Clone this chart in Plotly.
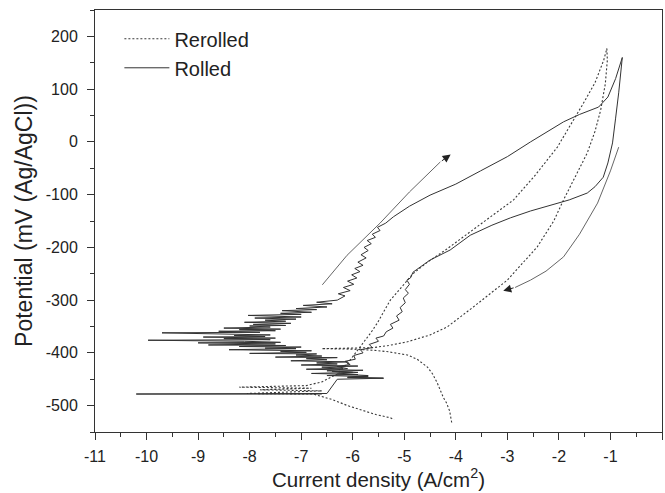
import plotly.graph_objects as go

# ---------------- data ----------------
# Rolled: cyclic polarization curve (log current density, potential mV)
rolled_x = [-6.6, -10.2, -6.5, -6.3,
            -5.4, -6.1, -5.7, -6.5, -5.9, -6.8, -6.0, -6.4, -5.8, -6.9, -6.2, -6.6, -5.9, -7.0,
            -6.3, -6.7, -6.1, -7.2, -6.5, -6.9, -6.3, -7.5, -6.6, -7.1, -6.7, -8.0, -6.9, -7.4,
            -6.8, -8.4, -7.1, -7.7, -7.0, -8.2, -7.3, -8.8, -7.5, -9.0, -7.4, -8.1, -9.97, -7.6,
            -8.5, -7.5, -8.9, -7.7, -8.3, -7.6, -9.7, -7.8, -8.6, -7.5, -8.2, -7.4, -8.5, -7.6,
            -8.0, -7.3, -7.93, -7.2, -8.1, -7.3, -7.7, -7.1, -7.9, -7.0, -8.03, -7.0, -7.4, -6.8,
            -7.37, -6.7, -7.1, -6.5, -6.96, -6.4, -6.7, -6.3,
            -6.15, -6.28, -6.05, -6.18, -5.98, -6.1, -5.92, -6.02, -5.86, -5.96, -5.8, -5.9,
            -5.74, -5.84, -5.7, -5.78, -5.64, -5.72, -5.56, -5.62, -5.47, -5.52, -5.36, -5.21,
            -4.9, -4.5, -4.0, -3.52, -3.0, -2.55, -2.2, -1.91, -1.6, -1.23, -1.05, -0.9, -0.77,
            -0.8, -0.84, -0.9, -0.96, -1.05, -1.14, -1.3, -1.45, -1.8, -2.17, -2.55, -2.94, -3.3,
            -3.72, -4.11, -4.5, -4.83,
            -4.88, -4.95, -4.9, -4.98, -4.92, -5.02, -4.98, -5.08, -5.04, -5.15, -5.1, -5.27,
            -5.22, -5.35, -5.4, -5.55, -5.5, -5.68, -5.62, -5.85, -5.8, -5.98, -5.95, -6.15,
            -6.05, -6.3, -6.1, -6.5, -5.9, -6.3, -5.7, -6.1, -5.41]
rolled_y = [-478, -478, -477, -450,
            -448, -447, -445, -443, -441, -439, -437, -435, -433, -431, -429, -427, -425, -423,
            -421, -419, -417, -415, -413, -411, -409, -408, -406, -404, -402, -401, -399, -397,
            -396, -394, -392, -391, -389, -388, -386, -385, -383, -381, -380, -378, -376, -375,
            -373, -372, -370, -369, -367, -366, -362, -361, -359, -358, -356, -355, -353, -351,
            -349, -348, -346, -344, -342, -340, -338, -336, -334, -332, -329, -327, -325, -323,
            -320, -318, -316, -313, -310, -307, -304, -300,
            -292, -288, -282, -276, -270, -264, -258, -252, -246, -240, -234, -228,
            -220, -214, -206, -200, -193, -187, -181, -175, -168, -162, -154, -142,
            -122, -101, -80, -55, -28, 0, 20, 38, 52, 66, 85, 120, 160,
            130, 93, 45, -2, -40, -67, -85, -97, -110, -120, -131, -144, -158,
            -177, -205, -224, -247,
            -258, -262, -270, -280, -287, -296, -305, -314, -322, -330, -338, -346,
            -353, -360, -368, -372, -378, -384, -390, -394, -400, -405, -412, -416,
            -422, -426, -430, -434, -437, -440, -443, -446, -448]

# Rerolled: cyclic polarization curve
rerolled_x = [-4.08, -4.12, -4.18, -4.24, -4.36, -4.45, -4.55, -4.75, -4.94, -5.3, -5.6, -6.0,
              -6.6, -6.0, -5.6, -5.3, -4.94, -4.5, -4.17, -3.66, -3.3, -3.0, -2.42, -2.1, -1.91,
              -1.65, -1.45, -1.3, -1.19, -1.1, -1.06, -1.07,
              -1.13, -1.3, -1.52, -2.03, -2.45, -2.88, -3.3, -3.66, -4.2, -4.55, -4.83, -5.05,
              -5.27, -5.4, -5.52, -5.65, -5.8, -5.95, -6.1, -6.3, -6.6, -6.9, -8.2, -6.8, -7.8,
              -6.6, -8.05, -6.77, -6.55, -6.38, -6.1, -5.85, -5.55, -5.27, -5.2]
rerolled_y = [-532, -510, -495, -485, -457, -440, -427, -412, -404, -398, -395, -393,
              -392, -391, -390, -386, -379, -366, -351, -313, -285, -262, -199, -150, -110,
              -60, -21, 20, 60, 110, 155, 177,
              155, 112, 74, -10, -62, -110, -140, -167, -205, -228, -250, -275,
              -300, -322, -343, -362, -381, -400, -420, -440, -455, -462, -465, -467, -470,
              -472, -477, -478, -484, -489, -500, -508, -517, -523, -527]

# Scan-direction arrows (curved shafts)
arrow1_x = [-6.59, -6.11, -5.47, -4.9, -4.3]
arrow1_y = [-271, -215, -154, -95, -38]
arrow1_tip = (-4.1, -24)
arrow2_x = [-0.84, -1.0, -1.25, -1.6, -1.91, -2.25, -2.55, -2.85]
arrow2_y = [-10, -55, -116, -175, -218, -245, -262, -276]
arrow2_tip = (-3.08, -282)

x_ticks = list(range(-11, 1))
x_labels = [str(v) for v in x_ticks]
y_ticks = list(range(-500, 201, 100))
y_labels = [str(v) for v in y_ticks]

FONT = "Liberation Sans, Arial, sans-serif"
TXT = "#222222"

fig = go.Figure()
fig.add_trace(go.Scatter(x=rerolled_x, y=rerolled_y, mode="lines", name="Rerolled",
                         line=dict(color="#3a3a3a", width=1.1, dash="2px,2px")))
fig.add_trace(go.Scatter(x=rolled_x, y=rolled_y, mode="lines", name="Rolled",
                         line=dict(color="#333333", width=1)))
fig.add_trace(go.Scatter(x=arrow1_x, y=arrow1_y, mode="lines", showlegend=False,
                         line=dict(color="#666666", width=1), hoverinfo="skip"))
fig.add_trace(go.Scatter(x=arrow2_x, y=arrow2_y, mode="lines", showlegend=False,
                         line=dict(color="#666666", width=1), hoverinfo="skip"))

for shaft_x, shaft_y, tip in ((arrow1_x, arrow1_y, arrow1_tip), (arrow2_x, arrow2_y, arrow2_tip)):
    fig.add_annotation(x=tip[0], y=tip[1], ax=shaft_x[-1], ay=shaft_y[-1],
                       xref="x", yref="y", axref="x", ayref="y", text="",
                       showarrow=True, arrowhead=2, arrowsize=1.6, arrowwidth=1,
                       arrowcolor="#222222")

axis_common = dict(showline=True, linecolor="#333333", linewidth=1, mirror=True,
                   showgrid=False, zeroline=False, ticks="outside", tickcolor="#333333",
                   automargin=False,
                   tickfont=dict(family=FONT, size=16, color=TXT))

fig.update_xaxes(range=[-11, 0], tickvals=x_ticks, ticktext=x_labels, ticklen=7,
                 ticklabelstandoff=3,
                 minor=dict(dtick=0.5, ticks="outside", ticklen=4, tickcolor="#333333"),
                 title=dict(text="Current density (A/cm<sup>2</sup>)",
                            font=dict(family=FONT, size=20.5, color=TXT), standoff=2),
                 **axis_common)
fig.update_yaxes(range=[-550, 250], tickvals=y_ticks, ticktext=y_labels, ticklen=7,
                 ticklabelstandoff=6,
                 minor=dict(dtick=50, ticks="outside", ticklen=4, tickcolor="#333333"),
                 title=dict(text="Potential (mV (Ag/AgCl))",
                            font=dict(family=FONT, size=23, color=TXT), standoff=6),
                 **axis_common)

fig.update_layout(width=665, height=493, margin=dict(l=95, r=3, t=10, b=61),
                  plot_bgcolor="white", paper_bgcolor="white",
                  legend=dict(x=0.043, y=0.978, xanchor="left", yanchor="top",
                              bgcolor="rgba(0,0,0,0)", itemwidth=45,
                              font=dict(family=FONT, size=20, color=TXT)),
                  showlegend=True)

# remove the default page margin so the 665x493 figure fills the window exactly
page_fix = ("document.body.style.margin='0';document.body.style.overflow='hidden';"
            "var gd=document.getElementById('{plot_id}');"
            "Plotly.relayout(gd,{width:665,height:493});")

fig.write_html("out.html", post_script=page_fix, config={"displayModeBar": False})
